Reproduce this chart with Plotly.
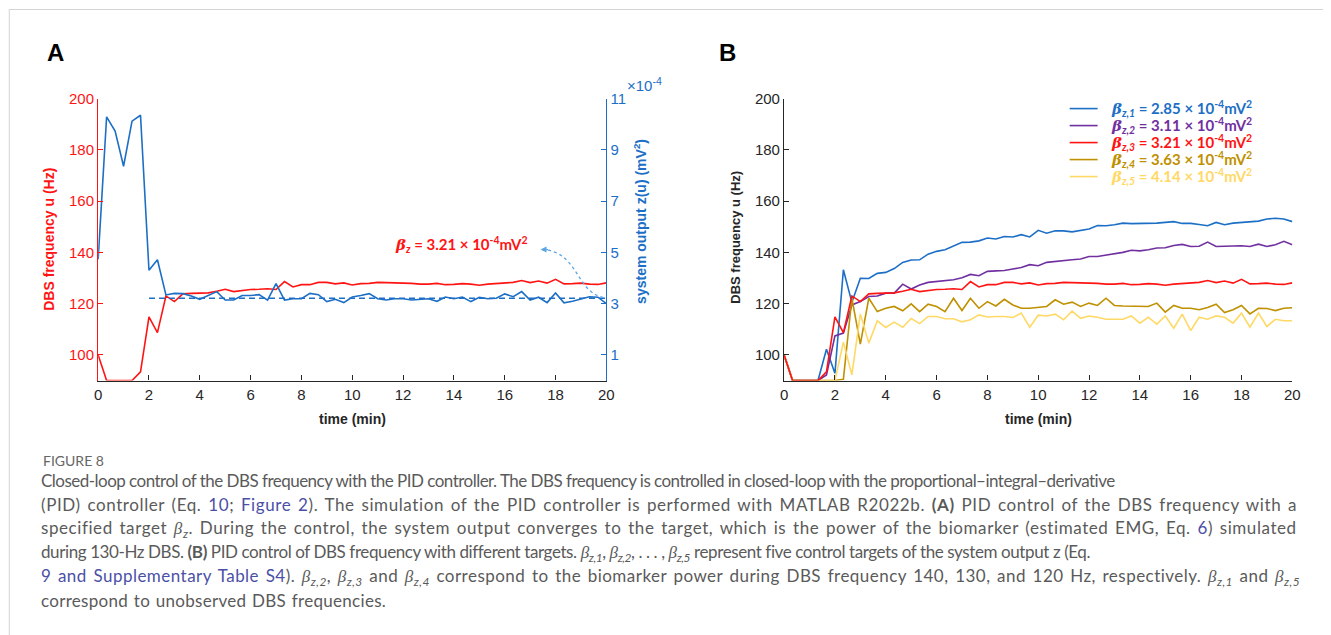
import plotly.graph_objects as go

# ---------------- data ----------------
time_min = [0.0, 0.333, 0.667, 1.0, 1.333, 1.667, 2.0, 2.333, 2.667, 3.0,
            3.333, 3.667, 4.0, 4.333, 4.667, 5.0, 5.333, 5.667, 6.0, 6.333,
            6.667, 7.0, 7.333, 7.667, 8.0, 8.333, 8.667, 9.0, 9.333, 9.667,
            10.0, 10.333, 10.667, 11.0, 11.333, 11.667, 12.0, 12.333, 12.667, 13.0,
            13.333, 13.667, 14.0, 14.333, 14.667, 15.0, 15.333, 15.667, 16.0, 16.333,
            16.667, 17.0, 17.333, 17.667, 18.0, 18.333, 18.667, 19.0, 19.333, 19.667, 20.0]

# DBS frequency u (Hz) for target beta_z,3 (= panel A red line)
dbs_freq_beta3 = [100, 90, 90, 90, 90, 93.4, 114.8, 108.7, 123.0, 120.8,
                  123.8, 124.0, 124.2, 124.2, 124.8, 125.6, 124.7, 125.1, 125.5, 125.6,
                  125.8, 125.5, 128.6, 126.5, 127.4, 127.4, 128.3, 128.3, 127.7, 128.1,
                  127.3, 127.8, 127.9, 128.3, 128.2, 128.2, 128.1, 127.9, 127.6, 127.6,
                  127.9, 127.4, 127.5, 127.8, 127.6, 127.2, 127.6, 127.8, 128.2, 128.3,
                  129.0, 128.2, 128.8, 128.0, 129.5, 127.7, 127.8, 128.0, 127.6, 127.5, 128.1]

# system output z(u), in units of 1e-4 mV^2 (panel A blue line)
z_output_e4 = [4.73, 10.29, 9.73, 8.36, 10.12, 10.35, 4.30, 4.71, 3.34, 3.40,
               3.39, 3.30, 3.17, 3.32, 3.47, 3.14, 3.14, 3.32, 3.32, 3.35,
               3.14, 3.78, 3.14, 3.19, 3.19, 3.40, 3.35, 3.08, 3.17, 3.04,
               3.26, 3.32, 3.39, 3.19, 3.14, 3.19, 3.19, 3.14, 3.17, 3.19,
               3.09, 3.26, 3.19, 3.26, 3.08, 3.25, 3.19, 3.21, 3.38, 3.27,
               3.47, 3.14, 3.25, 3.04, 3.42, 3.03, 3.09, 3.17, 3.27, 3.25, 3.00]

beta_target = 3.21          # x 1e-4 mV^2
target_start_min = 2
target_end_min = 20

dbs_freq_beta1 = [100, 90, 90, 90, 90, 102.2, 92.8, 133.2, 120.5, 129.9,
                  129.8, 131.8, 132.2, 133.7, 136.1, 137.0, 137.1, 139.3, 140.4, 141.0,
                  142.6, 143.9, 144.0, 144.5, 145.6, 145.2, 146.2, 146.0, 146.9, 146.0,
                  148.6, 147.5, 148.4, 148.4, 148.0, 148.6, 149.1, 150.5, 150.4, 150.8,
                  151.4, 151.2, 151.2, 151.2, 151.4, 151.7, 152.0, 151.3, 151.3, 150.9,
                  150.4, 151.7, 150.8, 151.4, 151.7, 151.8, 152.2, 153.0, 153.3, 153.0, 152.0]

dbs_freq_beta2 = [100, 90, 90, 90, 90, 92.2, 107.4, 108.5, 119.5, 120.8,
                  122.8, 123.0, 124.1, 124.1, 127.6, 125.7, 127.3, 128.3, 128.6, 129.0,
                  129.3, 130.1, 131.4, 130.9, 132.6, 132.8, 132.9, 133.5, 134.1, 135.2,
                  134.8, 136.1, 136.5, 136.7, 137.1, 137.4, 138.4, 138.4, 138.9, 139.6,
                  140.0, 140.8, 140.6, 141.0, 141.7, 141.8, 142.7, 143.1, 142.3, 142.4,
                  144.0, 142.3, 142.4, 142.6, 142.6, 142.3, 143.2, 142.3, 143.0, 144.3, 143.0]

dbs_freq_beta4 = [100, 90, 90, 90, 90, 90, 90, 90.5, 122.1, 104.2,
                  122.1, 116.9, 118.2, 118.9, 117.2, 119.9, 116.9, 119.8, 118.9, 116.9,
                  122.1, 117.3, 122.1, 118.2, 120.8, 119.1, 121.7, 119.5, 118.2, 118.2,
                  118.6, 118.9, 121.5, 119.8, 120.6, 118.9, 120.2, 119.3, 122.1, 119.3,
                  119.1, 119.1, 118.9, 118.9, 120.2, 116.7, 119.3, 118.2, 118.2, 117.6,
                  118.5, 119.8, 116.5, 117.6, 119.3, 116.0, 118.2, 118.1, 117.3, 118.2, 118.4]

dbs_freq_beta5 = [100, 90, 90, 90, 90, 90, 90, 105.0, 92.2, 116.0,
                  104.6, 113.3, 110.7, 112.8, 110.8, 114.2, 112.2, 115.0, 115.0, 114.1,
                  114.1, 112.9, 113.7, 115.6, 114.8, 115.0, 115.0, 114.6, 116.3, 110.8,
                  115.5, 115.2, 115.9, 113.7, 117.1, 114.3, 115.2, 114.7, 113.9, 113.9,
                  113.9, 115.2, 112.4, 114.7, 112.0, 115.2, 110.4, 115.9, 109.5, 114.7,
                  113.9, 115.2, 114.7, 112.4, 116.3, 110.8, 116.3, 111.1, 113.9, 113.3, 113.3]

beta_targets = [2.85, 3.11, 3.21, 3.63, 4.14]
beta_subscripts = ["z,1", "z,2", "z,3", "z,4", "z,5"]

x_ticks = [0, 2, 4, 6, 8, 10, 12, 14, 16, 18, 20]
u_ticks = [100, 120, 140, 160, 180, 200]
z_ticks = [1, 3, 5, 7, 9, 11]

# ---------------- style ----------------
W, H = 1331, 635
RED = "#ff1414"
BLUE = "#1d6fc6"
DARK = "#262626"
SERIES_COLORS = ["#1d6fc6", "#7030a0", "#ff1414", "#bf9000", "#ffd966"]
ARROW_BLUE = "#5aa6e6"
CAP = "#5a5a5a"
LINK = "#4b4fa6"
TICKFONT = "Liberation Sans, Arial, sans-serif"
ANNFONT = "Lato, sans-serif"

# small correction between layout pixels and the photographed page
SX, OX = 0.9925, 2.7
SY, OY = 0.986, 9.4


def px(x):
    return max(0.0, min(1.0, ((x - OX) / SX) / W))


def py(y):
    return max(0.0, min(1.0, 1 - ((y - OY) / SY) / H))


def beta(sub):
    return ("<span style='font-family:DejaVu Serif'><b><i>β</i></b></span>"
            f"<sub><b><i>{sub}</i></b></sub>")


def ibeta(sub):
    return (f"<span style='font-family:Liberation Serif'><i>β</i></span>"
            f"<sub><i>{sub}</i></sub>")


def text_at(text, x, y, xanchor="center", yanchor="middle", **kw):
    d = dict(text=text, x=px(x), y=py(y), xref="paper", yref="paper", showarrow=False,
             xanchor=xanchor, yanchor=yanchor)
    d.update(kw)
    return d


fig = go.Figure()

# Panel A
fig.add_trace(go.Scatter(x=time_min, y=dbs_freq_beta3, xaxis="x", yaxis="y", mode="lines",
                         line=dict(color=RED, width=1.6), name="DBS frequency u", showlegend=False))
fig.add_trace(go.Scatter(x=time_min, y=z_output_e4, xaxis="x", yaxis="y2", mode="lines",
                         line=dict(color=BLUE, width=1.6), name="system output z(u)", showlegend=False))
fig.add_trace(go.Scatter(x=[target_start_min, target_end_min], y=[beta_target, beta_target],
                         xaxis="x", yaxis="y2", mode="lines",
                         line=dict(color=BLUE, width=1.6, dash="6px,4px"), name="target", showlegend=False))

# Panel B
series_b = [dbs_freq_beta1, dbs_freq_beta2, dbs_freq_beta3, dbs_freq_beta4, dbs_freq_beta5]
draw_order = [0, 1, 3, 4, 2]
for i in draw_order:
    fig.add_trace(go.Scatter(x=time_min, y=series_b[i], xaxis="x2", yaxis="y3", mode="lines",
                             line=dict(color=SERIES_COLORS[i], width=1.6),
                             name=f"beta {beta_subscripts[i]} = {beta_targets[i]}e-4 mV^2",
                             showlegend=False))

axis_common = dict(showgrid=False, zeroline=False, showline=True, ticks="inside",
                   ticklen=5, tickwidth=1, linewidth=1.3)
y_dom = [py(381), py(99)]

fig.update_layout(
    width=W, height=H,
    margin=dict(l=0, r=0, t=0, b=0),
    paper_bgcolor="white", plot_bgcolor="white",
    showlegend=False,
    xaxis=dict(domain=[px(97), px(606)], anchor="y", range=[0, 20], tickvals=x_ticks,
               linecolor=DARK, tickcolor=DARK,
               tickfont=dict(family=TICKFONT, size=15, color=DARK), **axis_common),
    yaxis=dict(domain=y_dom, anchor="x", range=[90, 200], tickvals=u_ticks,
               linecolor=RED, tickcolor=RED,
               tickfont=dict(family=TICKFONT, size=15, color=RED), **axis_common),
    yaxis2=dict(overlaying="y", side="right", anchor="x", range=[0, 11], tickvals=z_ticks,
                linecolor=BLUE, tickcolor=BLUE,
                tickfont=dict(family=TICKFONT, size=15, color=BLUE), **axis_common),
    xaxis2=dict(domain=[px(784), px(1293)], anchor="y3", range=[0, 20], tickvals=x_ticks,
                linecolor=DARK, tickcolor=DARK,
                tickfont=dict(family=TICKFONT, size=15, color=DARK), **axis_common),
    yaxis3=dict(domain=y_dom, anchor="x2", range=[90, 200], tickvals=u_ticks,
                linecolor=DARK, tickcolor=DARK,
                tickfont=dict(family=TICKFONT, size=15, color=DARK), **axis_common),
)

ann = []
# panel letters
ann.append(text_at("<b>A</b>", 54, 53, font=dict(family="Liberation Sans", size=24, color="black")))
ann.append(text_at("<b>B</b>", 727, 53, font=dict(family="Liberation Sans", size=24, color="black")))
# axis titles
ann.append(text_at("<b>time (min)</b>", 352, 419, font=dict(family=TICKFONT, size=14, color=DARK)))
ann.append(text_at("<b>time (min)</b>", 1039, 419, font=dict(family=TICKFONT, size=14, color=DARK)))
ann.append(text_at("<b>DBS frequency u (Hz)</b>", 47, 240, textangle=-90,
                   font=dict(family=TICKFONT, size=14, color=RED)))
ann.append(text_at("<b>system output z(u) (mV<sup>2</sup>)</b>", 639, 222, textangle=-90,
                   font=dict(family=TICKFONT, size=14, color=BLUE)))
ann.append(text_at("<b>DBS frequency u (Hz)</b>", 735, 238, textangle=-90,
                   font=dict(family=TICKFONT, size=13, color=DARK)))
# exponent label of right axis
ann.append(text_at("×10<sup>-4</sup>", 625, 85, xanchor="left",
                   font=dict(family=TICKFONT, size=15, color=BLUE)))
# target annotation in A
ann.append(text_at(beta("z") + f"<b> = {beta_target:.2f} × 10<sup>-4</sup>mV<sup>2</sup></b>",
                   392, 245, xanchor="left", font=dict(family=ANNFONT, size=15, color=RED)))
# arrow head of the dotted curve
ann.append(dict(text="", x=px(540), y=py(250), xref="paper", yref="paper", ax=9, ay=0,
                showarrow=True, arrowhead=2, arrowsize=1, arrowwidth=1.2, arrowcolor=ARROW_BLUE))

# manual legend in B
leg_rows_y = [109, 126, 143, 160, 177]
shapes = []
for i in range(5):
    ann.append(text_at(beta(beta_subscripts[i]) +
                       f"<b> = {beta_targets[i]:.2f} × 10<sup>-4</sup>mV<sup>2</sup></b>",
                       1109, leg_rows_y[i], xanchor="left",
                       font=dict(family=ANNFONT, size=15, color=SERIES_COLORS[i])))
    shapes.append(dict(type="line", xref="paper", yref="paper", x0=px(1070), x1=px(1098),
                       y0=py(leg_rows_y[i]), y1=py(leg_rows_y[i]),
                       line=dict(color=SERIES_COLORS[i], width=1.6)))

# curved dotted arrow
path = (f"M {px(603)},{py(298)} C {px(575)},{py(292)} {px(578)},{py(252)} {px(542)},{py(250)}")
shapes.append(dict(type="path", xref="paper", yref="paper", path=path,
                   line=dict(color=ARROW_BLUE, width=1.3, dash="dot")))
# card border
shapes.append(dict(type="line", xref="paper", yref="paper", x0=px(8), x1=1, y0=py(8) - 0.0008, y1=py(8) - 0.0008,
                   line=dict(color="#d4d4d4", width=1)))
shapes.append(dict(type="line", xref="paper", yref="paper", x0=px(8), x1=px(8), y0=0, y1=py(8),
                   line=dict(color="#d4d4d4", width=1)))


# caption
def link(s):
    return f"<span style='fill:{LINK}'>{s}</span>"


caption_lines = [
    "Closed-loop control of the DBS frequency with the PID controller. The DBS frequency is controlled in closed-loop with the proportional–integral–derivative",
    f"(PID) controller (Eq. {link('10')}; {link('Figure 2')}). The simulation of the PID controller is performed with MATLAB R2022b. <b>(A)</b> PID control of the DBS frequency with a",
    f"specified target {ibeta('z')}. During the control, the system output converges to the target, which is the power of the biomarker (estimated EMG, Eq. {link('6')}) simulated",
    f"during 130-Hz DBS. <b>(B)</b> PID control of DBS frequency with different targets. {ibeta('z,1')}, {ibeta('z,2')}, . . . , {ibeta('z,5')} represent five control targets of the system output z (Eq.",
    f"{link('9 and Supplementary Table S4')}). {ibeta('z,2')}, {ibeta('z,3')} and {ibeta('z,4')} correspond to the biomarker power during DBS frequency 140, 130, and 120 Hz, respectively. {ibeta('z,1')} and {ibeta('z,5')}",
    "correspond to unobserved DBS frequencies.",
]
caption_spacing = [(-0.52, 0), (0.6, 1.8), (0.57, 1.8), (-0.4, 0), (0.47, 1.8), (0.3, 1.0)]
caption_y = [481, 505, 529, 553, 577, 601]
ann.append(text_at("FIGURE 8", 40, 461, xanchor="left",
                   font=dict(family="Lato", size=14, color="#666666")))
for s, yy, (ls, ws) in zip(caption_lines, caption_y, caption_spacing):
    styled = f"<span style='letter-spacing:{ls}px;word-spacing:{ws}px'>{s}</span>"
    ann.append(text_at(styled, 38, yy, xanchor="left",
                       font=dict(family="Lato", size=17, color=CAP)))

fig.update_layout(annotations=ann, shapes=shapes)
fig.write_html("out.html", config={"displayModeBar": False},
               post_script="document.body.style.margin='0px';document.body.style.overflow='hidden';")
